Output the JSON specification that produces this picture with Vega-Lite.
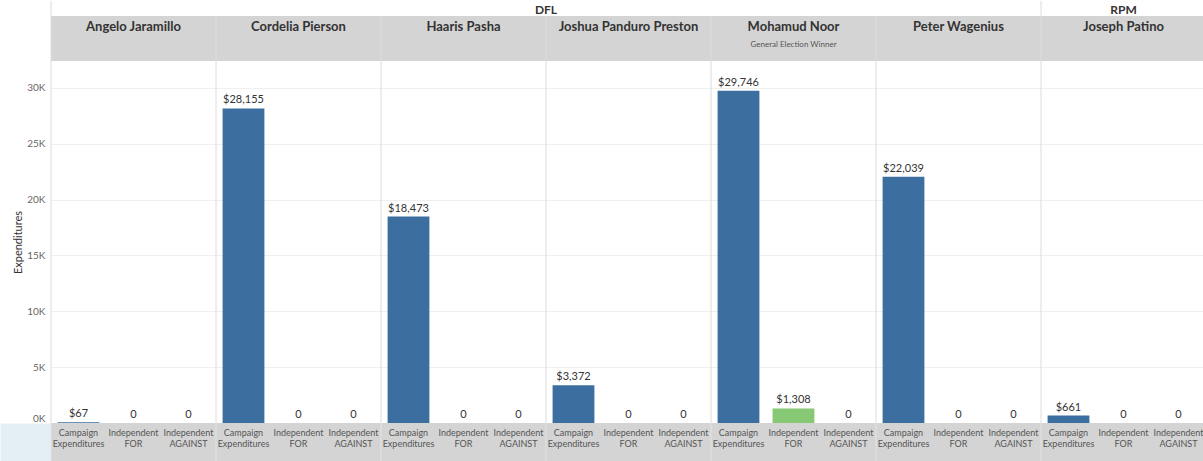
{
  "$schema": "https://vega.github.io/schema/vega-lite/v6.json",
  "padding": {"left": 12, "top": 0, "right": 0, "bottom": 0},
  "background": "white",
  "spacing": 0,
  "bounds": "flush",
  "config": {"view": {"stroke": null}, "font": "Lato", "concat": {"spacing": 0}},
  "datasets": {
    "cands": [
      {"candidate": "Angelo Jaramillo", "party": "DFL", "note": ""},
      {"candidate": "Cordelia Pierson", "party": "DFL", "note": ""},
      {"candidate": "Haaris Pasha", "party": "DFL", "note": ""},
      {"candidate": "Joshua Panduro Preston", "party": "DFL", "note": ""},
      {"candidate": "Mohamud Noor", "party": "DFL", "note": "General Election Winner"},
      {"candidate": "Peter Wagenius", "party": "DFL", "note": ""},
      {"candidate": "Joseph Patino", "party": "RPM", "note": ""}
    ],
    "bars": [
      {"candidate": "Angelo Jaramillo", "type": "Campaign Expenditures", "value": 67},
      {"candidate": "Angelo Jaramillo", "type": "Independent FOR", "value": 0},
      {"candidate": "Angelo Jaramillo", "type": "Independent AGAINST", "value": 0},
      {"candidate": "Cordelia Pierson", "type": "Campaign Expenditures", "value": 28155},
      {"candidate": "Cordelia Pierson", "type": "Independent FOR", "value": 0},
      {"candidate": "Cordelia Pierson", "type": "Independent AGAINST", "value": 0},
      {"candidate": "Haaris Pasha", "type": "Campaign Expenditures", "value": 18473},
      {"candidate": "Haaris Pasha", "type": "Independent FOR", "value": 0},
      {"candidate": "Haaris Pasha", "type": "Independent AGAINST", "value": 0},
      {"candidate": "Joshua Panduro Preston", "type": "Campaign Expenditures", "value": 3372},
      {"candidate": "Joshua Panduro Preston", "type": "Independent FOR", "value": 0},
      {"candidate": "Joshua Panduro Preston", "type": "Independent AGAINST", "value": 0},
      {"candidate": "Mohamud Noor", "type": "Campaign Expenditures", "value": 29746},
      {"candidate": "Mohamud Noor", "type": "Independent FOR", "value": 1308},
      {"candidate": "Mohamud Noor", "type": "Independent AGAINST", "value": 0},
      {"candidate": "Peter Wagenius", "type": "Campaign Expenditures", "value": 22039},
      {"candidate": "Peter Wagenius", "type": "Independent FOR", "value": 0},
      {"candidate": "Peter Wagenius", "type": "Independent AGAINST", "value": 0},
      {"candidate": "Joseph Patino", "type": "Campaign Expenditures", "value": 661},
      {"candidate": "Joseph Patino", "type": "Independent FOR", "value": 0},
      {"candidate": "Joseph Patino", "type": "Independent AGAINST", "value": 0}
    ]
  },
  "vconcat": [
    {
      "width": 1155,
      "height": 15,
      "data": {"name": "cands"},
      "transform": [{"window": [{"op": "row_number", "as": "idx"}]}],
      "layer": [
        {
          "transform": [
            {"window": [{"op": "row_number", "as": "r"}], "groupby": ["party"]},
            {"filter": "datum.r == 1"}
          ],
          "mark": {"type": "rule", "color": "#dcdcdc", "strokeWidth": 1},
          "encoding": {
            "x": {"field": "candidate", "type": "nominal", "bandPosition": 0,
                  "scale": {"domain": ["Angelo Jaramillo", "Cordelia Pierson", "Haaris Pasha", "Joshua Panduro Preston", "Mohamud Noor", "Peter Wagenius", "Joseph Patino"], "paddingInner": 0, "paddingOuter": 0},
                  "axis": null}
          }
        },
        {
          "mark": {"type": "text", "fontSize": 12, "fontWeight": "bold", "color": "#333333", "baseline": "middle", "dy": 1},
          "encoding": {
            "x": {"aggregate": "mean", "field": "idx", "type": "quantitative", "scale": {"domain": [0.5, 7.5], "nice": false, "zero": false}, "axis": null},
            "text": {"field": "party", "type": "nominal"}
          }
        }
      ],
      "resolve": {"scale": {"x": "independent"}}
    },
    {
      "width": 1155,
      "height": 45,
      "data": {"name": "cands"},
      "encoding": {
        "x": {"field": "candidate", "type": "nominal",
              "scale": {"domain": ["Angelo Jaramillo", "Cordelia Pierson", "Haaris Pasha", "Joshua Panduro Preston", "Mohamud Noor", "Peter Wagenius", "Joseph Patino"], "paddingInner": 0, "paddingOuter": 0},
              "axis": null}
      },
      "layer": [
        {"mark": {"type": "rect", "color": "#d4d4d4"}},
        {"mark": {"type": "rule", "color": "#dcdcdc", "strokeWidth": 1},
         "encoding": {"x": {"field": "candidate", "type": "nominal", "bandPosition": 0}}},
        {"mark": {"type": "text", "fontSize": 13, "fontWeight": "bold", "color": "#333333", "baseline": "middle", "dy": -12},
         "encoding": {"text": {"field": "candidate", "type": "nominal"}}},
        {"mark": {"type": "text", "fontSize": 8, "color": "#555555", "baseline": "middle", "dy": 6},
         "encoding": {"text": {"field": "note", "type": "nominal"}}}
      ]
    },
    {
      "width": 1155,
      "height": 362,
      "data": {"name": "bars"},
      "transform": [{"calculate": "datum.value == 0 ? '0' : '$' + format(datum.value, ',')", "as": "lbl"}],
      "encoding": {
        "x": {"field": "candidate", "type": "nominal",
              "scale": {"domain": ["Angelo Jaramillo", "Cordelia Pierson", "Haaris Pasha", "Joshua Panduro Preston", "Mohamud Noor", "Peter Wagenius", "Joseph Patino"], "paddingInner": 0, "paddingOuter": 0},
              "axis": null}
      },
      "layer": [
        {"data": {"name": "cands"},
         "mark": {"type": "rule", "color": "#dcdcdc", "strokeWidth": 1},
         "encoding": {"x": {"field": "candidate", "type": "nominal", "bandPosition": 0}}},
        {"mark": {"type": "bar"},
         "encoding": {
           "xOffset": {"field": "type", "type": "nominal", "scale": {"domain": ["Campaign Expenditures", "Independent FOR", "Independent AGAINST"], "paddingInner": 0.24, "paddingOuter": 0.12}},
           "y": {"field": "value", "type": "quantitative", "scale": {"domain": [0, 32400], "nice": false},
                 "axis": {"values": [0, 5000, 10000, 15000, 20000, 25000, 30000], "labelExpr": "(datum.value / 1000) + 'K'", "labelFlush": true, "title": "Expenditures", "titleFontSize": 11, "titleFontWeight": "normal", "titleColor": "#333333", "labelColor": "#666666", "labelFontSize": 10, "labelPadding": 6, "domain": false, "ticks": false, "gridColor": "#efefef", "minExtent": 22, "maxExtent": 22, "titlePadding": 6}},
           "color": {"field": "type", "type": "nominal", "scale": {"domain": ["Campaign Expenditures", "Independent FOR", "Independent AGAINST"], "range": ["#3c6e9f", "#86c873", "#d9534f"]}, "legend": null}
         }},
        {"mark": {"type": "text", "fontSize": 11, "color": "#333333", "baseline": "bottom", "dy": -3},
         "encoding": {
           "xOffset": {"field": "type", "type": "nominal", "scale": {"domain": ["Campaign Expenditures", "Independent FOR", "Independent AGAINST"], "paddingInner": 0.24, "paddingOuter": 0.12}},
           "y": {"field": "value", "type": "quantitative"},
           "text": {"field": "lbl", "type": "nominal"}
         }}
      ]
    },
    {
      "width": 1155,
      "height": 39,
      "data": {"name": "bars"},
      "encoding": {
        "x": {"field": "candidate", "type": "nominal",
              "scale": {"domain": ["Angelo Jaramillo", "Cordelia Pierson", "Haaris Pasha", "Joshua Panduro Preston", "Mohamud Noor", "Peter Wagenius", "Joseph Patino"], "paddingInner": 0, "paddingOuter": 0},
              "axis": null}
      },
      "layer": [
        {"data": {"name": "cands"}, "mark": {"type": "rect", "color": "#d4d4d4"}},
        {"data": {"name": "cands"},
         "mark": {"type": "rule", "color": "#e4e4e4", "strokeWidth": 1},
         "encoding": {"x": {"field": "candidate", "type": "nominal", "bandPosition": 0}}},
        {"mark": {"type": "text", "fontSize": 9, "color": "#555555", "baseline": "middle", "dy": -10, "lineBreak": " ", "lineHeight": 11},
         "encoding": {
           "xOffset": {"field": "type", "type": "nominal", "scale": {"domain": ["Campaign Expenditures", "Independent FOR", "Independent AGAINST"], "paddingInner": 0.24, "paddingOuter": 0.12}},
           "text": {"field": "type", "type": "nominal"}
         }},
        {"data": {"name": "cands"},
         "mark": {"type": "point", "opacity": 0},
         "encoding": {
           "y": {"field": "candidate", "type": "nominal",
                 "axis": {"domain": true, "domainColor": "#e4eff5", "domainWidth": 51, "offset": 25.5, "labels": false, "ticks": false, "grid": false, "title": null}}
         }}
      ]
    }
  ]
}
